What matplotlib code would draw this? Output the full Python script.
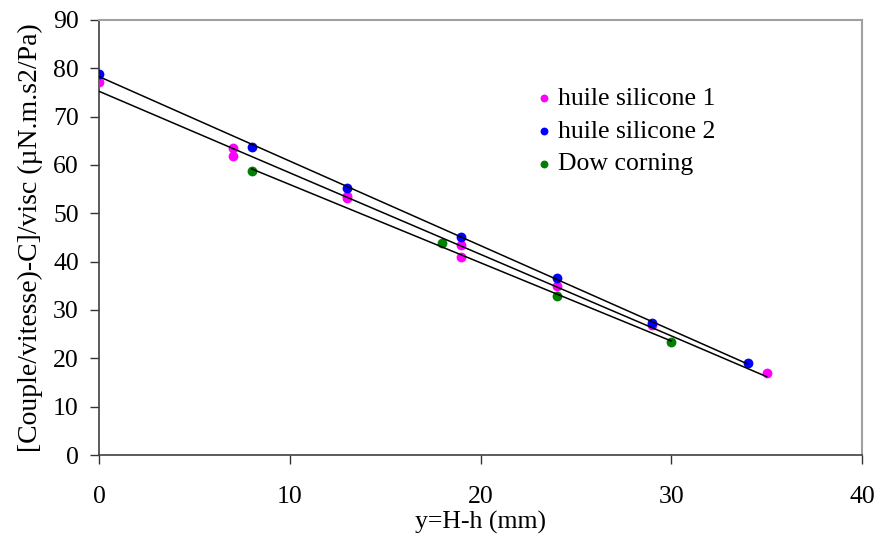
import numpy as np
import matplotlib
matplotlib.use("Agg")
import matplotlib.pyplot as plt

plt.rcParams['font.family'] = ['Liberation Serif', 'DejaVu Serif']

# data
x_h1 = [0, 7, 7, 13, 13, 19, 19, 24, 29, 35]
y_h1 = [77.2, 63.5, 61.9, 53.6, 53.1, 43.4, 40.9, 35.0, 26.9, 17.0]
x_h2 = [0, 8, 13, 19, 24, 29, 34]
y_h2 = [78.8, 63.8, 55.2, 45.2, 36.6, 27.4, 19.0]
x_dc = [8, 18, 24, 30]
y_dc = [58.8, 43.9, 33.0, 23.4]
labels = ["huile silicone 1", "huile silicone 2", "Dow corning"]
colors = ["#ff00ff", "#0000ff", "#008000"]

fig = plt.figure(figsize=(8.79, 5.39), dpi=100)
ax = fig.add_axes([99/879, 1-455/539, (862-99)/879, (455-20)/539])

series = [(x_h1, y_h1), (x_h2, y_h2), (x_dc, y_dc)]
for (xs, ys), lab, c in zip(series, labels, colors):
    xs = np.array(xs, float); ys = np.array(ys, float)
    ax.scatter(xs, ys, s=50, color=c, label=lab, zorder=3, linewidths=0)
for (xs, ys) in series:
    xs = np.array(xs, float); ys = np.array(ys, float)
    p = np.polyfit(xs, ys, 1)
    xx = np.array([xs.min(), xs.max()])
    ax.plot(xx, np.polyval(p, xx), color='black', lw=1.1, zorder=4)

ax.set_xlim(0, 40)
ax.set_ylim(0, 90)
ax.set_xticks(range(0, 41, 10))
ax.set_yticks(range(0, 91, 10))
ax.tick_params(direction='out', length=6.5, width=1, labelsize=18.5, color='#333333')
ax.tick_params(axis='x', pad=16)
ax.tick_params(axis='y', pad=8)
for s in ['left', 'bottom']:
    ax.spines[s].set_color('#404040')
    ax.spines[s].set_linewidth(1.2)
for s in ['top', 'right']:
    ax.spines[s].set_color('#a0a0a0')
    ax.spines[s].set_linewidth(1.5)

ax.set_xlabel("y=H-h (mm)", fontsize=18.5, labelpad=2)
ax.set_ylabel("[Couple/vitesse)-C]/visc (µN.m.s2/Pa)", fontsize=20, labelpad=7)

leg = ax.legend(loc='upper left', bbox_to_anchor=(0.553, 0.87), frameon=False,
                fontsize=18.5, handletextpad=0.05, handlelength=1.0, markerscale=0.8,
                labelspacing=0.38, borderaxespad=0)

fig.savefig("out.png", dpi=100)
